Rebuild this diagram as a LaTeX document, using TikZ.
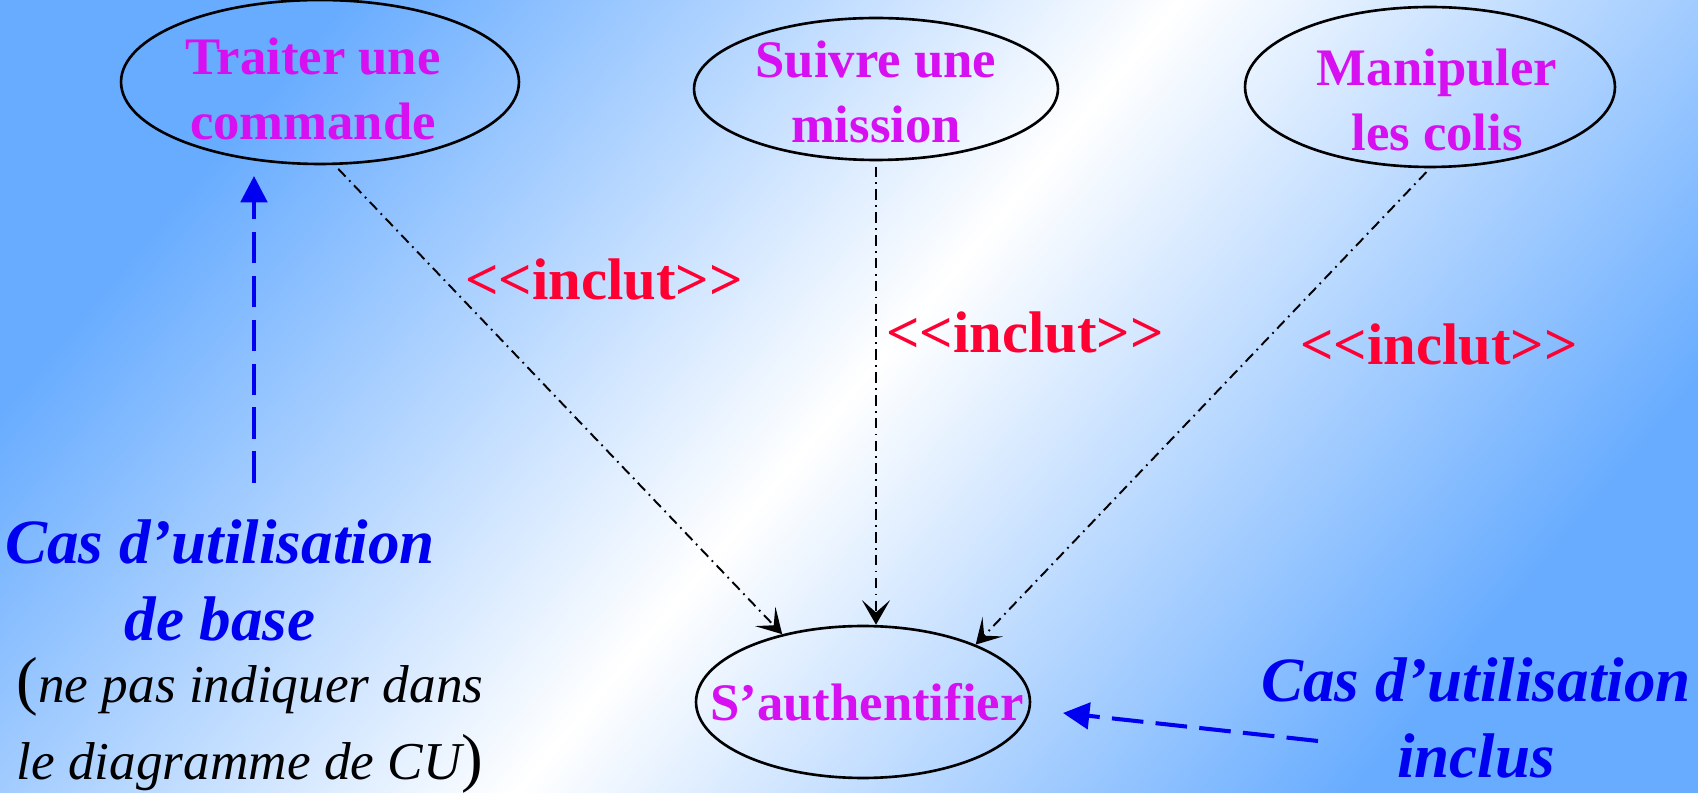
\documentclass[tikz,border=0pt]{standalone}
\usepackage{fontspec}
\setmainfont{Liberation Serif}
\usetikzlibrary{shapes.geometric,arrows.meta}

\definecolor{ucmagenta}{RGB}{214,16,240}
\definecolor{inclred}{RGB}{255,0,51}
\definecolor{noteblue}{RGB}{0,0,240}
\definecolor{bgblue}{RGB}{104,172,255}

% background: blue corners, white diagonal band
\pgfdeclareverticalshading{bgdiag}{100bp}{color(0bp)=(bgblue); color(25bp)=(bgblue);
  color(50bp)=(white); color(75bp)=(bgblue); color(100bp)=(bgblue)}

% << >> kept as two glyphs each
\newcommand{\stereotype}[1]{<\kern0pt<#1>\kern0pt>}
\newcommand{\bigparen}[1]{{\upshape\fontsize{37}{43.8}\selectfont#1}}

\tikzset{
  usecase/.style={draw, ellipse, line width=1.5pt, inner sep=0pt},
  uctext/.style={align=center, text=ucmagenta, font=\fontsize{30}{36.5}\selectfont\bfseries},
  inclabel/.style={anchor=base, text=inclred, font=\fontsize{33.4}{40}\selectfont\bfseries},
  inclarrow/.style={line width=1.1pt, dash pattern=on 6pt off 3pt on 1pt off 3pt,
    shorten <=3pt, -{Stealth[length=14pt,width=16pt,inset=7pt]}},
  ucnote/.style={align=center, text=noteblue, font=\fontsize{35.9}{43.8}\selectfont\bfseries\itshape},
  ucarrow/.style={draw=noteblue, line width=2.3pt, dash pattern=on 18pt off 7pt,
    -{Triangle[length=15pt,width=15pt]}}
}

\begin{document}
\begin{tikzpicture}[x=0.02cm, y=-0.02cm]
    \useasboundingbox (0,0) rectangle (1698,793);
    \shade[shading=bgdiag, shading angle=50] (0,0) rectangle (1698,793);

    % use cases
    \node[usecase, minimum width=7.96cm, minimum height=3.28cm] (traiter) at (320,82) {};
    \node[usecase, minimum width=7.28cm, minimum height=2.84cm] (suivre) at (876,89) {};
    \node[usecase, minimum width=7.40cm, minimum height=3.20cm] (manip) at (1430,87) {};
    \node[usecase, minimum width=6.68cm, minimum height=3.04cm] (auth) at (863,702) {};
    \node[uctext] (traiterTxt) at (313,89) {Traiter une\\commande};
    \node[uctext] (suivreTxt) at (876,92) {Suivre une\\mission};
    \node[uctext] (manipTxt) at (1437,100) {Manipuler\\les colis};
    \node[uctext] (authTxt) at (867,702) {S'authentifier};

    % include relations
    \draw[inclarrow] (traiter.-80) -- (auth.140);
    \draw[inclarrow] (suivre.south) -- (suivre.south |- auth.north);
    \draw[inclarrow] (manip.south) -- (auth.27);
    \node[inclabel] (incl1) at (604,300) {\stereotype{inclut}};
    \node[inclabel] (incl2) at (1025,353) {\stereotype{inclut}};
    \node[inclabel] (incl3) at (1439,365) {\stereotype{inclut}};

    % notes
    \node[ucnote] (basecase) at (220,580) {Cas d'utilisation\\de base};
    \node[align=center, font=\fontsize{30.3}{43.8}\selectfont\itshape] (cuhint) at (250,725)
      {\bigparen{(}ne pas indiquer dans\\le diagramme de CU\bigparen{)}};
    \node[ucnote] (inclcase) at (1476,718) {Cas d'utilisation\\inclus};

    \coordinate (baseTail) at (254,483);
    \coordinate (baseTip) at (254,176);
    \coordinate (inclTail) at (1318,741);
    \coordinate (inclTip) at (1063,713);
    \draw[ucarrow] (baseTail) -- (baseTip);
    \draw[ucarrow] (inclTail) -- (inclTip);
\end{tikzpicture}
\end{document}
